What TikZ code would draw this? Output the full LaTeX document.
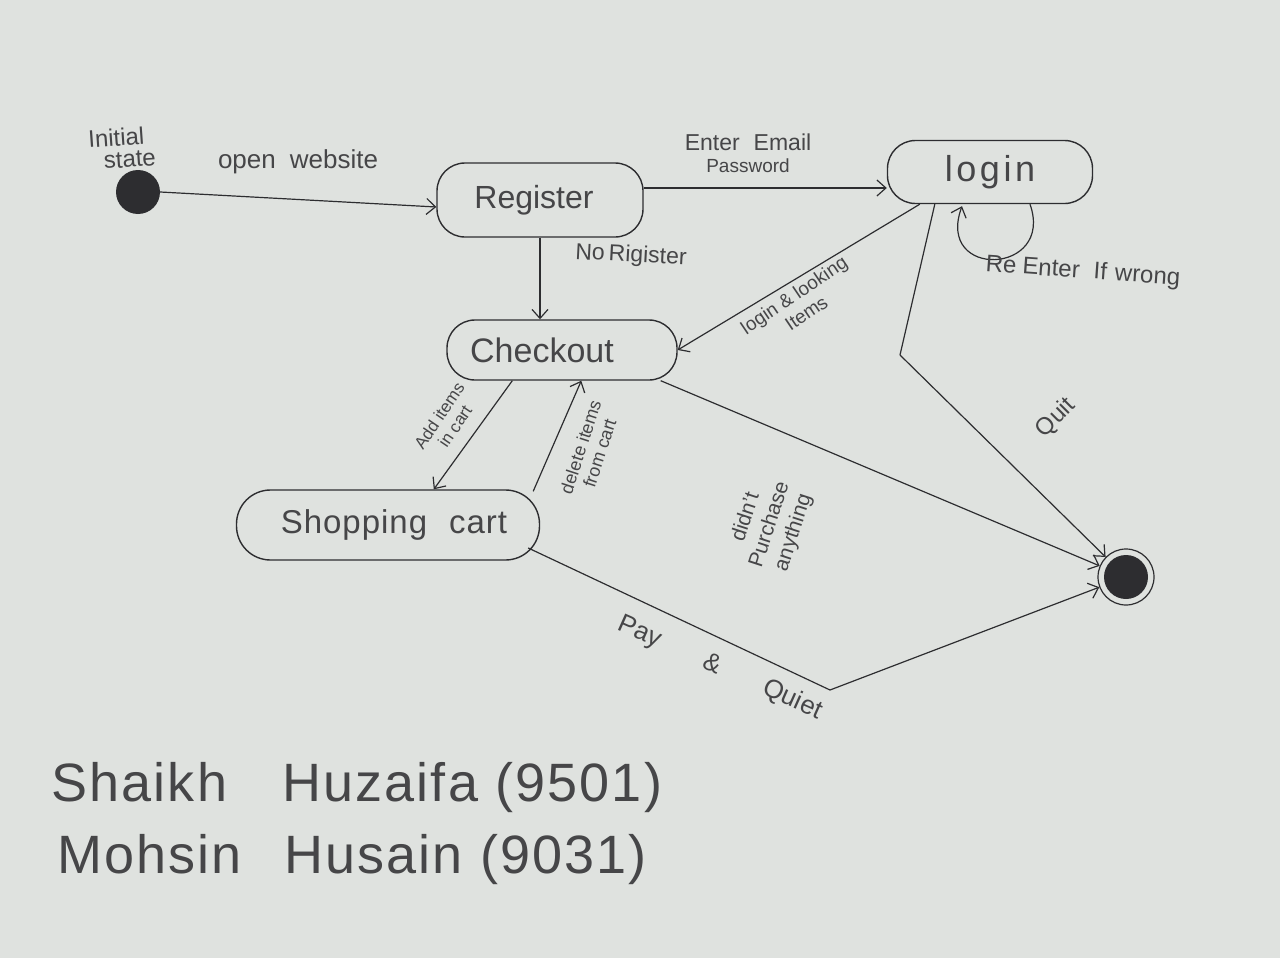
\documentclass[tikz,border=0pt]{standalone}
\usepackage{fontspec}
\setmainfont{Liberation Sans}
\usetikzlibrary{arrows.meta,calc}
\definecolor{paper}{RGB}{223,226,223}
\definecolor{ink}{RGB}{45,45,48}
\definecolor{pencil}{RGB}{70,70,72}
\tikzset{
  state/.style={draw=ink, line width=1.4pt, rounded corners=28pt, inner sep=0pt, font=\fontsize{32}{36}\selectfont, text=pencil},
  lbl/.style={text=pencil, align=center, inner sep=1pt},
  conn/.style={draw=ink, line width=1.2pt, -{Straight Barb[length=9pt,width=16pt,line width=1.2pt]}},
  seg/.style={draw=ink, line width=1.2pt},
}
\begin{document}
\begin{tikzpicture}[x=1pt,y=-1pt]
\fill[paper] (0,0) rectangle (1280,958);
\useasboundingbox (0,0) rectangle (1280,958);

% states
\node[circle, fill=ink, minimum size=44pt, inner sep=0pt] (init) at (138,192) {};
\node[state, minimum width=206pt, minimum height=74pt] (reg) at (540,200) {\kern-12pt Register};
\node[state, minimum width=205pt, minimum height=63pt, font=\fontsize{36}{40}\selectfont\addfontfeatures{LetterSpace=10}] (login) at (990,172) {login};
\node[state, minimum width=230pt, minimum height=60pt, font=\fontsize{34}{38}\selectfont] (chk) at (562,350) {Checkout\kern40pt};
\node[state, minimum width=303pt, minimum height=70pt, rounded corners=34pt, font=\fontsize{33}{38}\selectfont\addfontfeatures{LetterSpace=3}] (cart) at (388,525) {\kern12pt Shopping\hspace{22pt}cart};
\node[circle, draw=ink, line width=1.2pt, minimum size=56pt, inner sep=0pt] (fin) at (1126,577) {};
\node[circle, fill=ink, minimum size=44pt, inner sep=0pt] (finin) at (fin.center) {};

% waypoints
\coordinate (qbend) at (900,355);
\coordinate (pbend) at (830,690);

% connectors
\draw[conn] (init.east) -- ($(reg.west)+(0,7)$);
\draw[conn] ($(reg.east)+(0,-12)$) -- ($(login.west)+(0,16)$);
\draw[conn] ($(login.south)+(40,0)$) .. controls (1055,275) and (935,280) .. ($(login.south)+(-28,2)$);
\draw[conn] (reg.south) -- (reg.south |- chk.north);
\draw[conn] ($(login.south west)+(33,0)$) -- (chk.east);
\draw[seg] ($(login.south west)+(48,0)$) -- (qbend);
\draw[conn] (qbend) -- (fin);
\draw[conn] ($(chk.south east)+(-17,0)$) -- (fin);
\draw[conn] ($(chk.south west)+(66,0)$) -- ($(cart.north west)+(198,0)$);
\draw[conn] ($(cart.north east)+(-7,2)$) -- ($(chk.south west)+(135,0)$);
\draw[seg] ($(cart.east)+(-12,23)$) -- (pbend);
\draw[conn] (pbend) -- (fin);

% labels
\node[lbl, align=left, font=\fontsize{24}{22}\selectfont, rotate=4] (linit) at (122,148) {Initial\\\hspace{14pt}state};
\node[lbl, font=\fontsize{26}{28}\selectfont] (lopen) at (298,162) {open\hspace{14pt}website};
\node[lbl, font=\fontsize{23}{22}\selectfont] (lenter) at (748,153) {Enter\hspace{14pt}Email\\\fontsize{19}{19}\selectfont Password};
\node[lbl, font=\fontsize{23}{25}\selectfont, rotate=-3] (lnoreg) at (631,256) {No\hspace{4pt}Rigister};
\node[lbl, font=\fontsize{24}{26}\selectfont, rotate=-4] (lre) at (1083,272) {Re\hspace{6pt}Enter\hspace{14pt}If\hspace{8pt}wrong};
\node[lbl, font=\fontsize{19}{22}\selectfont, rotate=34] (llook) at (800,304) {login \& looking\\Items};
\node[lbl, font=\fontsize{17}{19}\selectfont, rotate=56] (ladd) at (447,421) {Add items\\in cart};
\node[lbl, font=\fontsize{18}{20}\selectfont, rotate=72] (ldel) at (590,450) {delete items\\from cart};
\node[lbl, font=\fontsize{21}{25}\selectfont, rotate=72] (lpur) at (770,525) {didn't\\Purchase\\anything};
\node[lbl, font=\fontsize{24}{26}\selectfont, rotate=45] (lquit) at (1056,418) {Quit};
\node[lbl, font=\fontsize{26}{28}\selectfont, rotate=-24] (lpay) at (720,668) {Pay\hspace{48pt}\&\hspace{48pt}Quiet};

% authors
\node[lbl, anchor=west, font=\fontsize{54}{56}\selectfont\addfontfeatures{LetterSpace=4}] (name1) at (50,788) {Shaikh\hspace{55pt}Huzaifa (9501)};
\node[lbl, anchor=west, font=\fontsize{54}{56}\selectfont\addfontfeatures{LetterSpace=4}] (name2) at (56,860) {Mohsin\hspace{42pt}Husain (9031)};
\end{tikzpicture}
\end{document}
